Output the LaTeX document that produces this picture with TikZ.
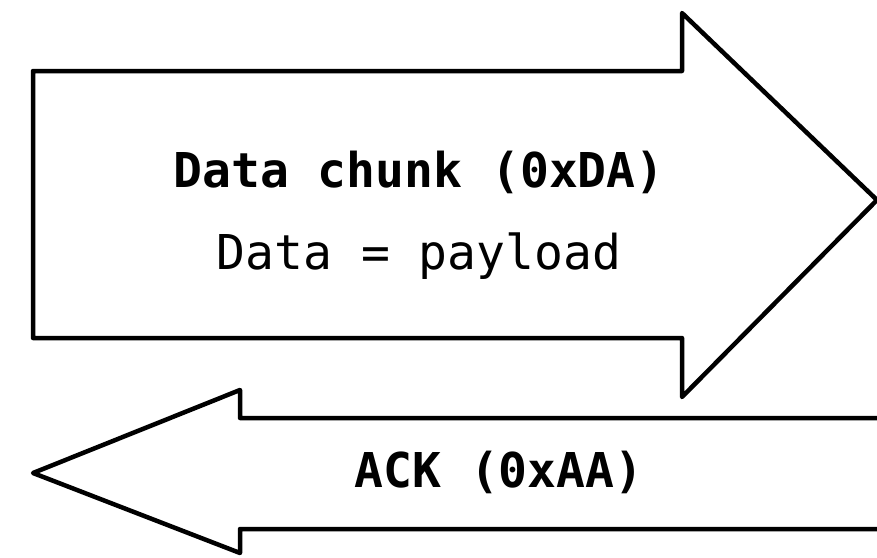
\documentclass[tikz,border=0pt]{standalone}
\usepackage{fontspec}
\setmonofont{DejaVu Sans Mono}
\tikzset{
  arrowshape/.style={draw=black, line width=4.5pt, line join=round, fill=white},
  lbl/.style={font=\ttfamily\fontsize{48}{52}\selectfont, anchor=base, inner sep=0pt},
  lblb/.style={lbl, font=\ttfamily\bfseries\fontsize{48}{52}\selectfont}
}
\begin{document}
\begin{tikzpicture}[x=1pt, y=-1pt]
\useasboundingbox[fill=white] (0,0) rectangle (877,557);
% big right arrow
\draw[arrowshape] (33,71) -- (682,71) -- (682,13) -- (877,200) -- (682,397) -- (682,338) -- (33,338) -- cycle;
% left arrow
\draw[arrowshape] (900,418) -- (240,418) -- (240,390) -- (33,473) -- (240,553) -- (240,529) -- (900,529);
\node[lblb] (title) at (419,187) {Data chunk (0xDA)};
\node[lbl] (sub) at (419,269) {Data = payload};
\node[lblb] (ack) at (499,487) {ACK (0xAA)};
\end{tikzpicture}
\end{document}
